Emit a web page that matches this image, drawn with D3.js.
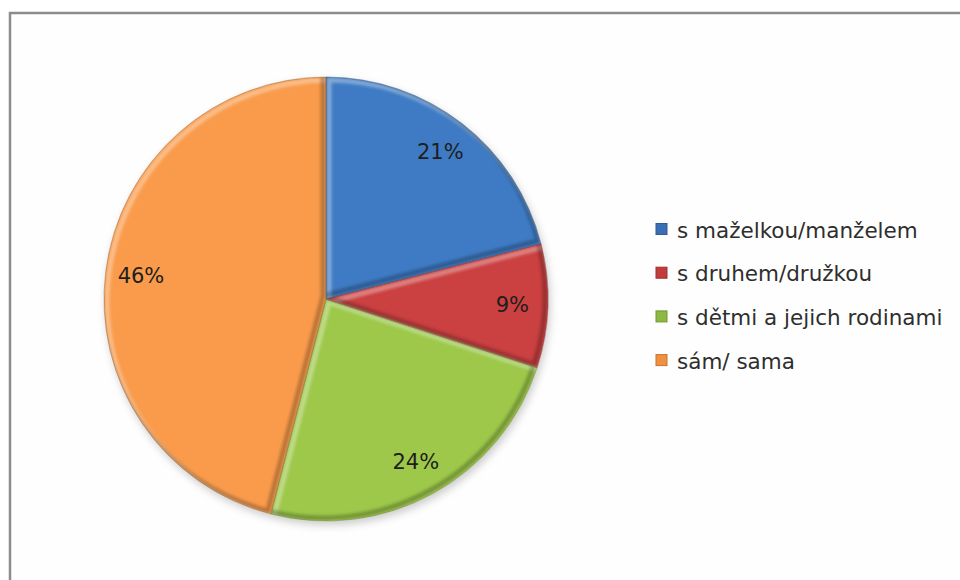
<!DOCTYPE html>
<html>
<head>
<meta charset="utf-8">
<script src="https://cdn.jsdelivr.net/npm/d3@7"></script>
<style>
  html, body { margin: 0; padding: 0; background: #fff; }
  svg { display: block; }
</style>
</head>
<body>
<svg id="chart" width="960" height="580"></svg>
<script>
// Living arrangement shares
const categories = ["s maželkou/manželem", "s druhem/družkou", "s dětmi a jejich rodinami", "sám/ sama"];
const values = [21, 9, 24, 46];
const colors = ["#3E7BC4", "#CB4040", "#9DC84A", "#F99B4B"];
const legendColors = ["#3A6FB5", "#C23C3C", "#8DB843", "#F0913F"];

const svg = d3.select("#chart");
const cx = 326, cy = 299, R = 222;
const fontFamily = "'DejaVu Sans', 'Open Sans', sans-serif";

const defs = svg.append("defs");

const soft = defs.append("filter").attr("id", "soft")
  .attr("x", "-10%").attr("y", "-10%").attr("width", "120%").attr("height", "120%");
soft.append("feGaussianBlur").attr("stdDeviation", 1.8);

const shadow = defs.append("filter").attr("id", "shadow")
  .attr("x", "-20%").attr("y", "-20%").attr("width", "140%").attr("height", "140%");
shadow.append("feGaussianBlur").attr("stdDeviation", 4);

// Frame
svg.append("rect")
  .attr("x", 10).attr("y", 13).attr("width", 990).attr("height", 620)
  .attr("fill", "#fefefe").attr("stroke", "#8c8c8c").attr("stroke-width", 2.5);

const pie = d3.pie().sort(null).value(d => d);
const arcs = pie(values);
const arc = d3.arc().innerRadius(0).outerRadius(R);
const labelArc = d3.arc().innerRadius(R * 0.84).outerRadius(R * 0.84);

const g = svg.append("g").attr("transform", `translate(${cx},${cy})`);

// drop shadow under the pie
g.append("circle").attr("cx", 2).attr("cy", 4).attr("r", R)
  .attr("fill", "#000").attr("opacity", 0.2).attr("filter", "url(#shadow)");

arcs.forEach((d, i) => {
  defs.append("clipPath").attr("id", "clip" + i)
    .append("path").attr("d", arc(d));
});

const slices = g.selectAll("g.slice").data(arcs).join("g")
  .attr("class", "slice")
  .attr("clip-path", (d, i) => `url(#clip${i})`);

slices.append("path")
  .attr("d", arc)
  .attr("fill", (d, i) => colors[i]);

// bevel: light band along upper-left edges, dark band along lower-right edges
slices.append("path")
  .attr("d", arc)
  .attr("transform", "translate(3,3)")
  .attr("fill", "none")
  .attr("stroke", "#ffffff")
  .attr("stroke-opacity", 0.35)
  .attr("stroke-width", 5)
  .attr("filter", "url(#soft)");
slices.append("path")
  .attr("d", arc)
  .attr("transform", "translate(-3,-3)")
  .attr("fill", "none")
  .attr("stroke", "#000000")
  .attr("stroke-opacity", 0.25)
  .attr("stroke-width", 5)
  .attr("filter", "url(#soft)");

g.selectAll("path.edge").data(arcs).join("path")
  .attr("class", "edge")
  .attr("d", arc)
  .attr("fill", "none")
  .attr("stroke", (d, i) => d3.color(colors[i]).darker(1))
  .attr("stroke-opacity", 0.5)
  .attr("stroke-width", 1);

g.selectAll("text.pct").data(arcs).join("text")
  .attr("class", "pct")
  .attr("transform", d => {
    const [x, y] = labelArc.centroid(d);
    return `translate(${x},${y})`;
  })
  .attr("text-anchor", "middle")
  .attr("dominant-baseline", "central")
  .attr("font-family", fontFamily)
  .attr("font-size", 21)
  .attr("fill", "#1e1e1e")
  .text(d => d.data + "%");

// Legend
const legend = svg.append("g").attr("transform", "translate(656,229)");
const rows = legend.selectAll("g").data(categories).join("g")
  .attr("transform", (d, i) => `translate(0,${i * 43.7})`);
rows.append("rect")
  .attr("x", 0).attr("y", -5.5).attr("width", 11).attr("height", 11)
  .attr("fill", (d, i) => legendColors[i])
  .attr("stroke", (d, i) => d3.color(legendColors[i]).darker(0.6))
  .attr("stroke-width", 1);
rows.append("text")
  .attr("x", 21).attr("y", 1)
  .attr("dominant-baseline", "central")
  .attr("font-family", fontFamily)
  .attr("font-size", 21.5)
  .attr("fill", "#2e2e2e")
  .text(d => d);
</script>
</body>
</html>
